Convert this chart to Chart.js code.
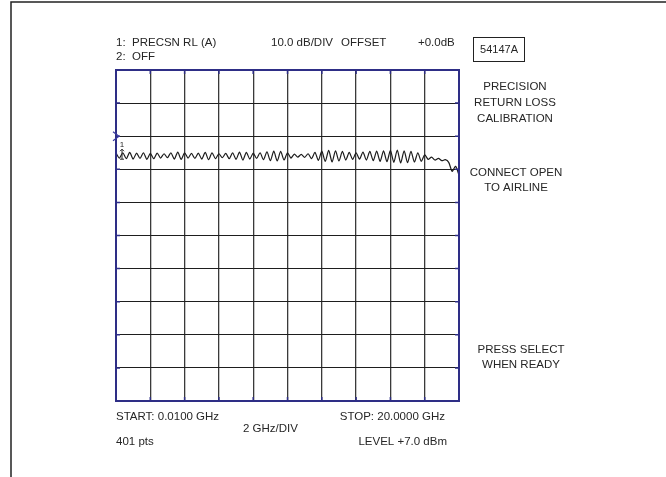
<!DOCTYPE html>
<html>
<head>
<meta charset="utf-8">
<script src="https://cdn.jsdelivr.net/npm/chart.js@4.4.0/dist/chart.umd.min.js"></script>
<style>
  html, body { margin: 0; padding: 0; background: #fff; }
  #wrap { width: 666px; height: 477px; }
</style>
</head>
<body>
<div id="wrap"><canvas id="rlChart" width="666" height="477"></canvas></div>
<script>
// sweep points (GHz), 2 GHz/div
const freqGHz = [
  0.01, 0.2, 0.4, 0.6, 0.8, 1.0, 1.2, 1.4, 1.6, 1.8,
  2.0, 2.2, 2.4, 2.6, 2.8, 3.0, 3.2, 3.4, 3.6, 3.8,
  4.0, 4.2, 4.4, 4.6, 4.8, 5.0, 5.2, 5.4, 5.6, 5.8,
  6.0, 6.2, 6.4, 6.6, 6.8, 7.0, 7.2, 7.4, 7.6, 7.8,
  8.0, 8.2, 8.4, 8.6, 8.8, 9.0, 9.2, 9.4, 9.6, 9.8,
  10.0, 10.2, 10.4, 10.6, 10.8, 11.0, 11.2, 11.4, 11.6, 11.8,
  12.0, 12.2, 12.4, 12.6, 12.8, 13.0, 13.2, 13.4, 13.6, 13.8,
  14.0, 14.2, 14.4, 14.6, 14.8, 15.0, 15.2, 15.4, 15.6, 15.8,
  16.0, 16.2, 16.4, 16.6, 16.8, 17.0, 17.2, 17.4, 17.6, 17.8,
  18.0, 18.2, 18.4, 18.6, 18.8, 19.0, 19.2, 19.4, 19.6, 19.8,
  20.0
];

// trace 1, precision return loss (dB), 10 dB/div
const rlDb = [
  -5.2, -6.6, -5.0, -6.8, -4.9, -6.9, -5.1, -6.7, -5.0, -7.0,
  -5.2, -6.8, -5.1, -6.6, -5.3, -6.5, -5.0, -6.9, -4.8, -7.0,
  -5.0, -6.6, -5.2, -6.7, -5.1, -6.9, -4.9, -7.1, -5.0, -6.8,
  -5.3, -6.5, -5.2, -6.8, -5.0, -7.0, -4.8, -7.2, -4.9, -6.9,
  -5.1, -6.7, -5.0, -7.1, -4.7, -7.4, -4.5, -7.5, -4.6, -7.2,
  -5.0, -6.6, -5.4, -6.3, -5.5, -6.4, -5.3, -6.8, -4.9, -7.3,
  -4.5, -7.6, -4.3, -7.8, -4.4, -7.5, -4.6, -7.2, -4.9, -7.0,
  -5.0, -6.9, -4.8, -7.2, -4.6, -7.4, -4.5, -7.6, -4.4, -7.7,
  -4.3, -7.9, -4.2, -8.1, -4.4, -8.0, -4.6, -7.8, -5.0, -7.6,
  -5.6, -7.0, -6.3, -7.2, -6.7, -7.4, -7.1, -7.9, -10.6, -9.1,
  -11.7
];

const refLevelDb = 0;
const yRange = [-80, 20];      // 10 divisions of 10 dB
const xRange = [0, 20];        // 10 divisions of 2 GHz

const headerLeft = ['1:  PRECSN RL (A)', '2:  OFF'];
const headerMid = ['10.0 dB/DIV', 'OFFSET', '+0.0dB'];
const modelTag = '54147A';
const promptTop = ['PRECISION', 'RETURN LOSS', 'CALIBRATION'];
const promptMid = ['CONNECT OPEN', 'TO AIRLINE'];
const promptLow = ['PRESS SELECT', 'WHEN READY'];
const footerLeft = ['START: 0.0100 GHz', '401 pts'];
const footerMid = '2 GHz/DIV';
const footerRight = ['STOP: 20.0000 GHz', 'LEVEL +7.0 dBm'];

const FONT = '11.5px "Liberation Sans", Arial, sans-serif';
const INK = '#262626';
const FRAME_BLUE = '#2e2e86';

// all the screen annotations around the graticule
const screenText = {
  id: 'screenText',
  afterDraw(chart) {
    const { ctx, chartArea: a, scales } = chart;
    const x = scales.x, y = scales.y;
    ctx.save();

    // outer page frame (top + left only)
    ctx.strokeStyle = '#222';
    ctx.lineWidth = 1.5;
    ctx.beginPath();
    ctx.moveTo(666, 2);
    ctx.lineTo(11, 2);
    ctx.lineTo(11, 477);
    ctx.stroke();

    // graticule border + small ticks
    ctx.strokeStyle = FRAME_BLUE;
    ctx.lineWidth = 2;
    ctx.strokeRect(a.left, a.top, a.right - a.left, a.bottom - a.top);
    ctx.lineWidth = 1.5;
    ctx.beginPath();
    for (let v = xRange[0] + 2; v < xRange[1]; v += 2) {
      const px = x.getPixelForValue(v);
      ctx.moveTo(px, a.top); ctx.lineTo(px, a.top + 4);
      ctx.moveTo(px, a.bottom - 4); ctx.lineTo(px, a.bottom);
    }
    for (let v = yRange[0] + 10; v < yRange[1]; v += 10) {
      const py = y.getPixelForValue(v);
      ctx.moveTo(a.left, py); ctx.lineTo(a.left + 4, py);
      ctx.moveTo(a.right - 4, py); ctx.lineTo(a.right, py);
    }
    ctx.stroke();

    // reference position marker
    const y0 = y.getPixelForValue(refLevelDb);
    ctx.strokeStyle = '#3c3ca0';
    ctx.lineWidth = 1.2;
    ctx.beginPath();
    ctx.moveTo(a.left - 3, y0 - 4.5);
    ctx.lineTo(a.left + 3, y0);
    ctx.lineTo(a.left - 3, y0 + 4.5);
    ctx.stroke();

    // trace 1 marker
    ctx.fillStyle = INK;
    ctx.font = '8px "Liberation Sans", Arial, sans-serif';
    ctx.textAlign = 'center';
    ctx.textBaseline = 'middle';
    ctx.fillText('1', a.left + 6, y0 + 9);
    ctx.strokeStyle = INK;
    ctx.lineWidth = 1;
    ctx.beginPath();
    ctx.moveTo(a.left + 6, y0 + 13); ctx.lineTo(a.left + 6, y0 + 23);
    ctx.moveTo(a.left + 4, y0 + 15); ctx.lineTo(a.left + 6, y0 + 13); ctx.lineTo(a.left + 8, y0 + 15);
    ctx.moveTo(a.left + 4, y0 + 23); ctx.lineTo(a.left + 8, y0 + 23);
    ctx.stroke();

    ctx.font = FONT;
    ctx.fillStyle = INK;
    ctx.textBaseline = 'middle';

    // header
    ctx.textAlign = 'left';
    ctx.fillText(headerLeft[0], a.left, 43);
    ctx.fillText(headerLeft[1], a.left, 57);
    ctx.fillText(headerMid[0], 271, 43);
    ctx.fillText(headerMid[1], 341, 43);
    ctx.fillText(headerMid[2], 418, 43);

    // model box
    ctx.strokeStyle = '#222';
    ctx.lineWidth = 1;
    ctx.strokeRect(473.5, 37.5, 51, 24);
    ctx.font = '11px "Liberation Sans", Arial, sans-serif';
    ctx.textAlign = 'center';
    ctx.fillText(modelTag, 499, 50);

    // right side prompts
    ctx.font = FONT;
    promptTop.forEach((t, i) => ctx.fillText(t, 515, 87 + i * 16));
    promptMid.forEach((t, i) => ctx.fillText(t, 516, 173 + i * 15));
    promptLow.forEach((t, i) => ctx.fillText(t, 521, 350 + i * 15));

    // footer
    ctx.textAlign = 'left';
    ctx.fillText(footerLeft[0], a.left, 417);
    ctx.fillText(footerLeft[1], a.left, 442);
    ctx.fillText(footerMid, 243, 429);
    ctx.textAlign = 'right';
    ctx.fillText(footerRight[0], 445, 417);
    ctx.fillText(footerRight[1], 447, 442);

    ctx.restore();
  }
};

new Chart(document.getElementById('rlChart'), {
  type: 'line',
  data: {
    datasets: [{
      label: 'PRECSN RL (A)',
      data: freqGHz.map((f, i) => ({ x: f, y: rlDb[i] })),
      borderColor: '#1c1c1c',
      borderWidth: 1.2,
      pointRadius: 0,
      tension: 0.25,
      fill: false
    }]
  },
  options: {
    responsive: false,
    animation: false,
    events: [],
    layout: { padding: { left: 116, right: 207, top: 70, bottom: 76 } },
    plugins: {
      legend: { display: false },
      tooltip: { enabled: false }
    },
    scales: {
      x: {
        type: 'linear',
        min: xRange[0],
        max: xRange[1],
        ticks: { display: false, stepSize: 2 },
        grid: { color: '#3a3a3a', lineWidth: 1.3, drawTicks: false },
        border: { display: false }
      },
      y: {
        min: yRange[0],
        max: yRange[1],
        ticks: { display: false, stepSize: 10 },
        grid: { color: '#1e1e1e', lineWidth: 1, drawTicks: false },
        border: { display: false }
      }
    }
  },
  plugins: [screenText]
});
</script>
</body>
</html>
